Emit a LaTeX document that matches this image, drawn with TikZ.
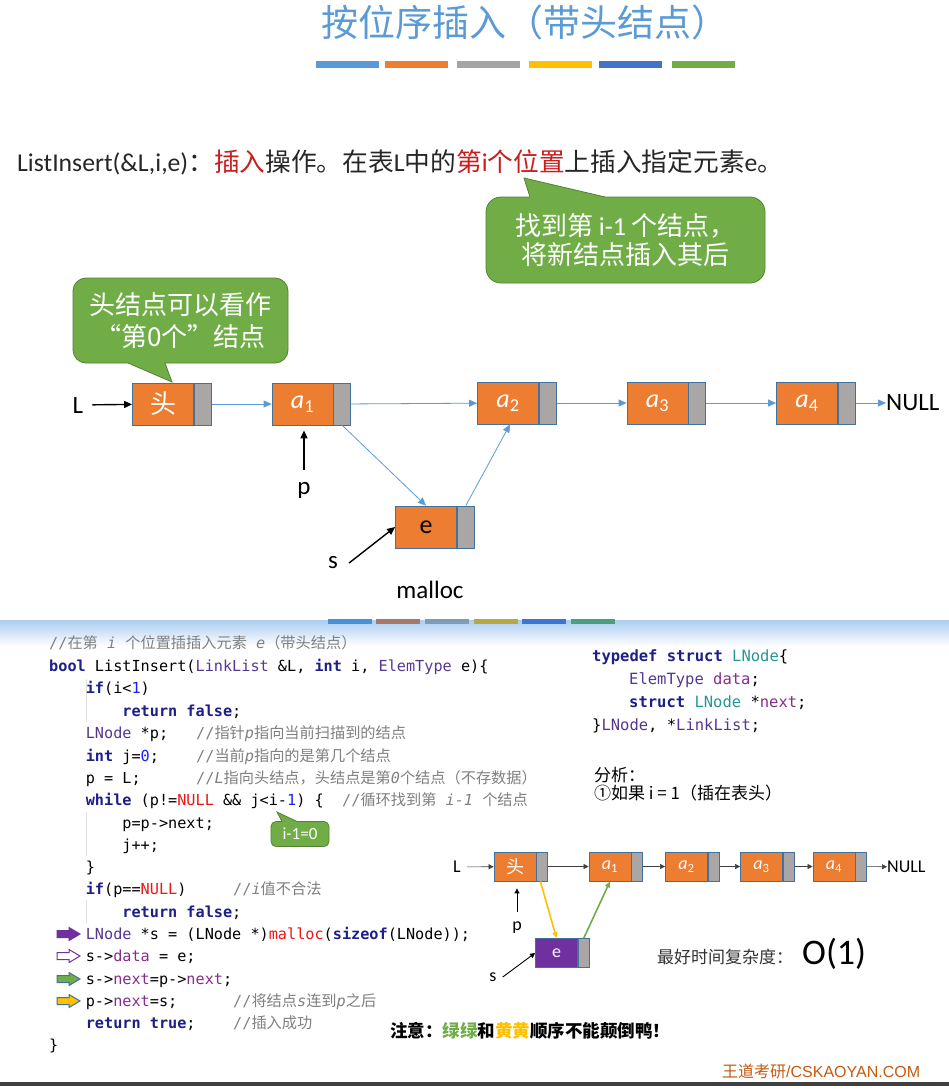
\documentclass[tikz,border=0pt]{standalone}
\usepackage{fontspec}
\setmainfont{Carlito}
\setmonofont{DejaVu Sans Mono}
\newfontfamily\zh{Noto Sans CJK SC}
\newfontfamily\arialfont{Liberation Sans}
\usetikzlibrary{arrows.meta,positioning,calc}
\definecolor{titleblue}{RGB}{91,155,213}
\definecolor{linkblue}{RGB}{91,155,213}
\definecolor{nodeorange}{RGB}{237,125,49}
\definecolor{nodegray}{RGB}{170,166,166}
\definecolor{nodeborder}{RGB}{65,113,156}
\definecolor{tipgreen}{RGB}{112,173,71}
\definecolor{tipborder}{RGB}{84,130,53}
\definecolor{enodepurple}{RGB}{112,48,160}
\definecolor{hlyellow}{RGB}{255,192,0}
\definecolor{hlred}{RGB}{200,30,30}
\definecolor{kwcol}{RGB}{30,30,135}
\definecolor{tycol}{RGB}{85,55,145}
\definecolor{fdcol}{RGB}{135,45,140}
\definecolor{tealcol}{RGB}{40,150,150}
\definecolor{numcol}{RGB}{30,30,250}
\definecolor{nullcol}{RGB}{240,20,20}
\definecolor{cmtcol}{RGB}{128,128,128}
\definecolor{brandcol}{RGB}{197,90,17}
\definecolor{bandblue}{RGB}{170,205,240}
\definecolor{barA}{RGB}{91,155,213}
\definecolor{barB}{RGB}{237,125,49}
\definecolor{barC}{RGB}{165,165,165}
\definecolor{barD}{RGB}{255,192,0}
\definecolor{barE}{RGB}{68,114,196}
\definecolor{barF}{RGB}{112,173,71}
\definecolor{dimA}{RGB}{74,144,217}
\definecolor{dimB}{RGB}{168,120,106}
\definecolor{dimC}{RGB}{124,156,184}
\definecolor{dimD}{RGB}{181,168,69}
\definecolor{dimE}{RGB}{61,117,213}
\definecolor{dimF}{RGB}{76,158,128}
\newcommand\kwd[1]{\textcolor{kwcol}{\bfseries#1}}
\newcommand\tyn[1]{\textcolor{tycol}{#1}}
\newcommand\fld[1]{\textcolor{fdcol}{#1}}
\newcommand\tea[1]{\textcolor{tealcol}{#1}}
\newcommand\numc[1]{\textcolor{numcol}{#1}}
\newcommand\nul[1]{\textcolor{nullcol}{#1}}
\newcommand\cz[1]{{\zh#1}}
\newcommand\cmt[1]{\textcolor{cmtcol}{#1}}
\tikzset{
  datapart/.style={draw=nodeborder, fill=nodeorange, line width=0.8pt,
                   minimum width=61, minimum height=42, inner sep=0pt,
                   text=white, font=\fontsize{26}{26}\selectfont},
  ptrpart/.style={draw=nodeborder, fill=nodegray, line width=0.8pt,
                  minimum width=17, minimum height=42, inner sep=0pt},
  sdatapart/.style={datapart, minimum width=42, minimum height=29,
                    font=\fontsize{18}{18}\selectfont},
  sptrpart/.style={ptrpart, minimum width=11, minimum height=29},
  nextlink/.style={-{Triangle[length=8pt,width=7pt]}, draw=linkblue, line width=0.8pt},
  ptrarrow/.style={-{Triangle[length=8pt,width=7pt]}, draw=black, line width=1.4pt},
  slink/.style={-{Triangle[length=5pt,width=5pt]}, draw=black!75, line width=0.6pt},
  sptr/.style={-{Triangle[length=5pt,width=5pt]}, draw=black, line width=0.9pt},
  bubble/.style={rectangle, rounded corners=13pt, fill=tipgreen, draw=tipborder,
                 line width=0.8pt, text=white, align=center, inner sep=0pt},
  lbl/.style={font=\fontsize{25}{25}\selectfont, inner sep=0pt},
  slbl/.style={font=\fontsize{18}{18}\selectfont, inner sep=0pt},
  codeline/.style={anchor=base west, inner sep=0pt, font=\ttfamily\fontsize{15.2}{18}\selectfont},
  rcodeline/.style={codeline, font=\ttfamily\fontsize{15.5}{18}\selectfont},
  indentguide/.style={draw=black!12, line width=1pt}
}

\begin{document}
\begin{tikzpicture}[x=1pt, y=-1pt]
\useasboundingbox (0,0) rectangle (949,1089);
\fill[white] (0,0) rectangle (949,1089);

% --- Title ---
\node[font=\zh\fontsize{37}{37}\selectfont, text=titleblue] (title) at (525,22)
  {按位序插入（带头结点）};
\foreach \x/\c in {316/barA, 385/barB, 457/barC, 529/barD, 599/barE, 672/barF}
  \fill[\c] (\x,61) rectangle ++(63,7);

% --- Definition line ---
\node[anchor=base west, inner sep=0pt, font=\fontsize{25.7}{25.7}\selectfont, text=black!85] (defline) at (17,171)
  {ListInsert(\&L,i,e){\zh ：}\textcolor{hlred}{\zh 插入}{\zh 操作。在表}L{\zh 中的}\textcolor{hlred}{{\zh 第}i{\zh 个位置}}{\zh 上插入指定元素}e{\zh 。}};

% --- Callouts ---
\node[bubble, minimum width=215, minimum height=85, font=\zh\fontsize{26}{32}\selectfont] (tipA) at (180.5,320.5)
  {头结点可以看作\\“第0个”结点};
\fill[tipgreen] (128,360) -- (128,363) -- (172,382) -- (165,363) -- (165,360) -- cycle;
\draw[tipborder, line width=0.8pt] (128,363) -- (172,382) -- (165,363);

\node[bubble, rounded corners=15pt, minimum width=279, minimum height=86, font=\zh\fontsize{26}{28.5}\selectfont] (tipB) at (625.5,240)
  {找到第 {\rmfamily i-1} 个结点，\\将新结点插入其后};
\fill[tipgreen] (530,200) -- (530,197) -- (524,178) -- (605,197) -- (605,200) -- cycle;
\draw[tipborder, line width=0.8pt] (530,197) -- (524,178) -- (605,197);

% --- Upper list ---
\node[datapart] (h) at (163,404) {\zh 头};
\node[ptrpart, right=0pt of h] (hp) {};
\node[datapart] (a1) at (302.5,404) {\textit{a}\textsubscript{1}};
\node[ptrpart, right=0pt of a1] (a1p) {};
\node[datapart] (a2) at (508,403) {\textit{a}\textsubscript{2}};
\node[ptrpart, right=0pt of a2] (a2p) {};
\node[datapart] (a3) at (657.5,403) {\textit{a}\textsubscript{3}};
\node[ptrpart, right=0pt of a3] (a3p) {};
\node[datapart] (a4) at (807,403) {\textit{a}\textsubscript{4}};
\node[ptrpart, right=0pt of a4] (a4p) {};
\node[datapart, text=black] (e) at (426,527) {e};
\node[ptrpart, right=0pt of e] (ep) {};

\node[lbl] (Lu) at (78,405) {L};
\node[lbl, anchor=west] (nullu) at (886,403) {NULL};
\node[lbl] (pu) at (304,490) {p};
\node[lbl] (su) at (333,563) {s};
\node[lbl] (mal) at (430,590) {malloc};

\draw[ptrarrow, shorten <=9pt] (Lu) -- (h);
\draw[nextlink] (hp) -- (a1);
\draw[nextlink] (a1p) -- (a2);
\draw[nextlink] (a1p.south) -- (e.north);
\draw[nextlink] (ep.north) -- ([xshift=2pt]a2.south);
\draw[nextlink] (a2p) -- (a3);
\draw[nextlink] (a3p) -- (a4);
\draw[nextlink] (a4p) -- (nullu);
\draw[ptrarrow, shorten <=12pt, shorten >=5pt] (pu) -- (pu |- a1.south);
\draw[ptrarrow] ([xshift=11pt]su.east) -- (e.west);

% --- Lower slide band ---
\shade[top color=bandblue, bottom color=white] (0,620) rectangle (949,646);
\foreach \x/\c in {328/dimA, 376/dimB, 425/dimC, 474/dimD, 522/dimE, 571/dimF}
  \fill[\c] (\x,618.5) rectangle ++(44,5.5);

% --- Code ---
\draw[indentguide] (86,679) -- (86,722);
\draw[indentguide] (86,812) -- (86,856);
\draw[indentguide] (86,900) -- (86,923);

\node[codeline] (c1) at (49,648) {\cmt{//\cz{在第} \textit{i} \cz{个位置插插入元素} \textit{e}\cz{（带头结点）}}};
\node[codeline] (c2) at (49,671) {\kwd{bool} ListInsert(\tyn{LinkList} \&L, \kwd{int} i, \tyn{ElemType} e)\{};
\node[codeline] (c3) at (85.6,693) {\kwd{if}(i<\numc{1})};
\node[codeline] (c4) at (122.2,716) {\kwd{return} \kwd{false};};
\node[codeline] (c5) at (85.6,738) {\tyn{LNode} *p;};
\node[codeline] (k5) at (196,738) {\cmt{//\cz{指针}\textit{p}\cz{指向当前扫描到的结点}}};
\node[codeline] (c6) at (85.6,761) {\kwd{int} j=\numc{0};};
\node[codeline] (k6) at (196,761) {\cmt{//\cz{当前}\textit{p}\cz{指向的是第几个结点}}};
\node[codeline] (c7) at (85.6,783) {p = L;};
\node[codeline] (k7) at (196,783) {\cmt{//\textit{L}\cz{指向头结点，头结点是第}\textit{0}\cz{个结点（不存数据）}}};
\node[codeline] (c8) at (85.6,805) {\kwd{while} (p!=\nul{NULL} \&\& j<i-\numc{1}) \{};
\node[codeline] (k8) at (342,805) {\cmt{//\cz{循环找到第} \textit{i-1} \cz{个结点}}};
\node[codeline] (c9) at (122.2,828) {p=p->next;};
\node[codeline] (c10) at (122.2,850) {j++;};
\node[codeline] (c11) at (85.6,872) {\}};
\node[codeline] (c12) at (85.6,894) {\kwd{if}(p==\nul{NULL})};
\node[codeline] (k12) at (233,894) {\cmt{//\textit{i}\cz{值不合法}}};
\node[codeline] (c13) at (122.2,917) {\kwd{return} \kwd{false};};
\node[codeline] (c14) at (85.6,939) {\tyn{LNode} *s = (LNode *)\nul{malloc}(\kwd{sizeof}(LNode));};
\node[codeline] (c15) at (85.6,961) {s->\fld{data} = e;};
\node[codeline] (c16) at (85.6,984) {s->\fld{next}=p->\fld{next};};
\node[codeline] (c17) at (85.6,1006) {p->\fld{next}=s;};
\node[codeline] (k17) at (233,1006) {\cmt{//\cz{将结点}\textit{s}\cz{连到}\textit{p}\cz{之后}}};
\node[codeline] (c18) at (85.6,1028) {\kwd{return} \kwd{true};};
\node[codeline] (k18) at (233,1028) {\cmt{//\cz{插入成功}}};
\node[codeline] (c19) at (49,1050) {\}};

% --- Step markers ---
\foreach \yy/\fc/\dc in {934/enodepurple/enodepurple, 956/white/enodepurple,
                         979/tipgreen/nodeborder, 1001/hlyellow/nodeborder}
  \filldraw[fill=\fc, draw=\dc, line width=1pt]
    (57,\yy-3.5) -- (69,\yy-3.5) -- (69,\yy-6.5) -- (80,\yy) -- (69,\yy+6.5)
    -- (69,\yy+3.5) -- (57,\yy+3.5) -- cycle;

% --- Small callout ---
\node[bubble, rounded corners=5pt, minimum width=58, minimum height=25, font=\fontsize{17}{17}\selectfont] (tipC) at (300,834) {i-1=0};
\fill[tipgreen] (282,824) -- (282,821.5) -- (277,812) -- (297,821.5) -- (297,824) -- cycle;
\draw[tipborder, line width=0.8pt] (282,821.5) -- (277,812) -- (297,821.5);

% --- Struct definition ---
\node[rcodeline] (r1) at (592,661) {\kwd{typedef} \kwd{struct} \tea{LNode}\{};
\node[rcodeline] (r2) at (629,684) {\tyn{ElemType} \fld{data};};
\node[rcodeline] (r3) at (629,707) {\kwd{struct} \tea{LNode} *\fld{next};};
\node[rcodeline] (r4) at (592,730) {\}\tyn{LNode}, *\tyn{LinkList};};

% --- Analysis ---
\node[anchor=base west, inner sep=0pt, font=\zh\fontsize{17}{17}\selectfont] (ana1) at (594,781) {分析：};
\node[anchor=base west, inner sep=0pt, font=\zh\fontsize{17}{17}\selectfont] (ana2) at (594,799) {①如果 i = 1（插在表头）};

% --- Small list ---
\node[sdatapart] (h2) at (515,866.5) {\zh 头};
\node[sptrpart, right=0pt of h2] (h2p) {};
\node[sdatapart] (b1) at (610,866.5) {\textit{a}\textsubscript{1}};
\node[sptrpart, right=0pt of b1] (b1p) {};
\node[sdatapart] (b2) at (686.5,866.5) {\textit{a}\textsubscript{2}};
\node[sptrpart, right=0pt of b2] (b2p) {};
\node[sdatapart] (b3) at (761.5,866.5) {\textit{a}\textsubscript{3}};
\node[sptrpart, right=0pt of b3] (b3p) {};
\node[sdatapart] (b4) at (834,866.5) {\textit{a}\textsubscript{4}};
\node[sptrpart, right=0pt of b4] (b4p) {};
\node[sdatapart, fill=enodepurple] (e2) at (556.5,953) {e};
\node[sptrpart, right=0pt of e2] (e2p) {};

\node[slbl] (L2) at (457,867) {L};
\node[slbl, anchor=west] (nul2) at (887,867) {NULL};
\node[slbl] (p2) at (517,928) {p};
\node[slbl] (s2) at (493,977) {s};

\draw[slink, shorten <=6pt] (L2) -- (h2);
\draw[slink] (h2p) -- (b1);
\draw[slink] (b1p) -- (b2);
\draw[slink] (b2p) -- (b3);
\draw[slink] (b3p) -- (b4);
\draw[slink] (b4p) -- (nul2);
\draw[-{Triangle[length=6pt,width=5pt]}, draw=hlyellow, line width=1.6pt] ([xshift=4pt]h2p.south west) -- (e2.north);
\draw[-{Triangle[length=6pt,width=5pt]}, draw=tipgreen, line width=1.6pt] (e2p.north) -- (b1.south);
\draw[sptr, shorten <=10pt, shorten >=7pt] (p2) -- (p2 |- h2.south);
\draw[sptr] ([xshift=6pt]s2.east) -- (e2.west);

% --- Complexity ---
\node[anchor=base west, inner sep=0pt, font=\zh\fontsize{17}{17}\selectfont, text=black!80] (best) at (657,963) {最好时间复杂度：};
\node[anchor=base west, inner sep=0pt, font=\fontsize{36}{36}\selectfont] (o1) at (802,964) {O(1)};

% --- Footer ---
\node[anchor=base west, inner sep=0pt, font=\zh\bfseries\fontsize{17.5}{17.5}\selectfont] (note) at (390,1037)
  {注意：\textcolor{tipgreen}{绿绿}和\textcolor{hlyellow}{黄黄}顺序不能颠倒鸭！};
\node[anchor=base west, inner sep=0pt, font=\fontsize{16}{16}\selectfont, text=brandcol] (brand) at (722,1077)
  {{\zh 王道考研}\arialfont/CSKAOYAN.COM};
\fill[black!75] (0,1082) rectangle (949,1086);

\end{tikzpicture}
\end{document}
